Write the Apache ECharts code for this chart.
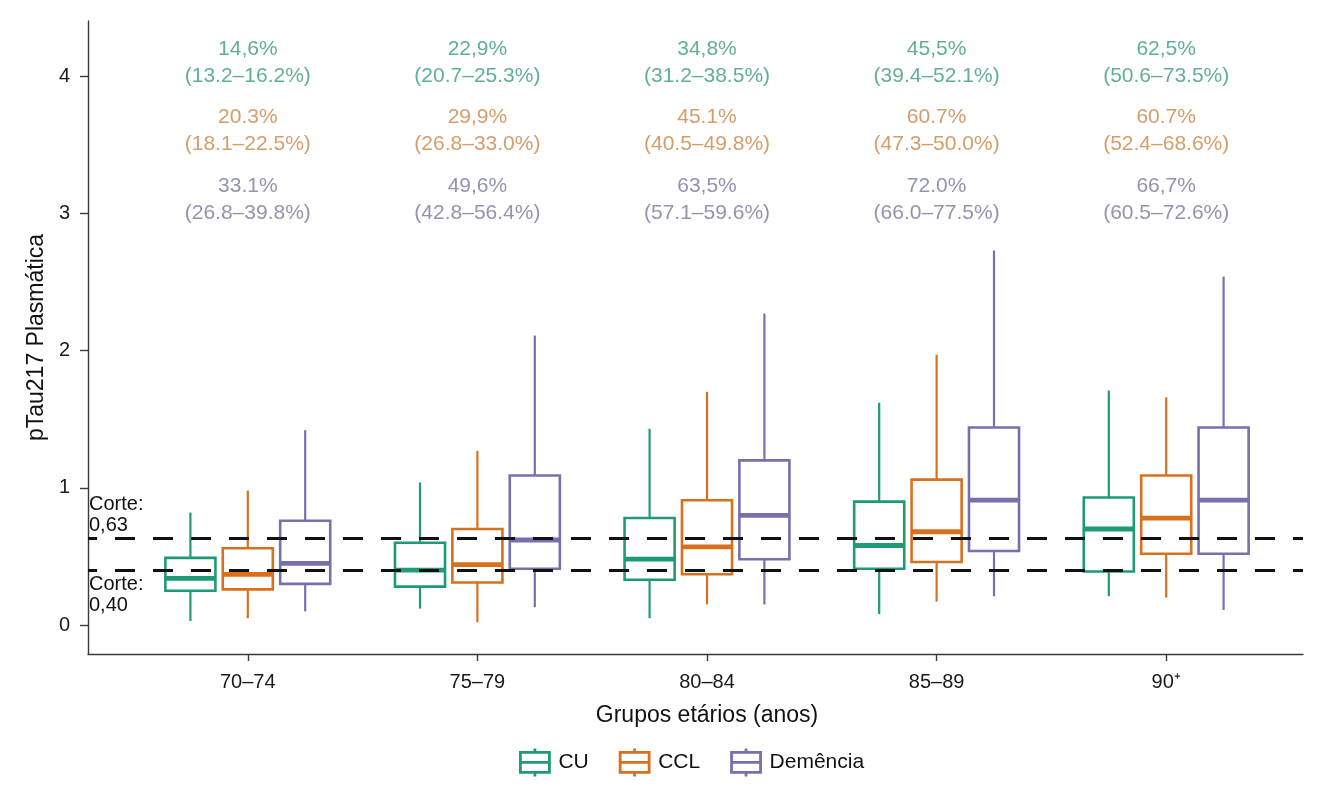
<!DOCTYPE html>
<html lang="pt">
<head>
    <meta charset="UTF-8">
    <title>pTau217 por grupo etário</title>
    <script src="https://cdn.jsdelivr.net/npm/echarts@6/dist/echarts.min.js"></script>
    <style>
        body { margin: 0; background: #fff; }
        #chart { width: 1344px; height: 796px; }
    </style>
</head>
<body>
  <div id="chart"></div>
  <script>
    // categorias do eixo x
    var categories = ['70–74', '75–79', '80–84', '85–89', '90⁺'];
    var yTicks = [0, 1, 2, 3, 4];
    var cutoffs = [0.63, 0.40];
    var cutoffLabels = ['Corte:\n0,63', 'Corte:\n0,40'];

    // caixas: [min, Q1, mediana, Q3, max]
    var cuBoxes = [
        [0.03, 0.25, 0.34, 0.49, 0.82],
        [0.12, 0.28, 0.40, 0.60, 1.04],
        [0.05, 0.33, 0.48, 0.78, 1.43],
        [0.08, 0.41, 0.58, 0.90, 1.62],
        [0.21, 0.39, 0.70, 0.93, 1.71]
    ];
    var cclBoxes = [
        [0.05, 0.26, 0.37, 0.56, 0.98],
        [0.02, 0.31, 0.44, 0.70, 1.27],
        [0.15, 0.37, 0.57, 0.91, 1.70],
        [0.17, 0.46, 0.68, 1.06, 1.97],
        [0.20, 0.52, 0.78, 1.09, 1.66]
    ];
    var demBoxes = [
        [0.10, 0.30, 0.45, 0.76, 1.42],
        [0.13, 0.41, 0.62, 1.09, 2.11],
        [0.15, 0.48, 0.80, 1.20, 2.27],
        [0.21, 0.54, 0.91, 1.44, 2.73],
        [0.11, 0.52, 0.91, 1.44, 2.54]
    ];

    // textos de prevalência no topo
    var cuPct = ['14,6%', '22,9%', '34,8%', '45,5%', '62,5%'];
    var cuCI = ['(13.2–16.2%)', '(20.7–25.3%)', '(31.2–38.5%)', '(39.4–52.1%)', '(50.6–73.5%)'];
    var cclPct = ['20.3%', '29,9%', '45.1%', '60.7%', '60.7%'];
    var cclCI = ['(18.1–22.5%)', '(26.8–33.0%)', '(40.5–49.8%)', '(47.3–50.0%)', '(52.4–68.6%)'];
    var demPct = ['33.1%', '49,6%', '63,5%', '72.0%', '66,7%'];
    var demCI = ['(26.8–39.8%)', '(42.8–56.4%)', '(57.1–59.6%)', '(66.0–77.5%)', '(60.5–72.6%)'];
    var noteY = [4.1, 3.6, 3.1];

    var font = '"Liberation Sans", Arial, Helvetica, sans-serif';
    var yMin = -0.211, yMax = 4.403;
    var axisColor = '#3a3a3a';

    var colors = { cu: '#1f9a77', ccl: '#d8701e', dem: '#7671ad' };
    var textColors = { cu: '#3a9a7e', ccl: '#c98443', dem: '#77789a' };

    function boxSeries(name, color, boxes, shift) {
        return {
            name: name,
            type: 'custom',
            xAxisIndex: 0,
            yAxisIndex: 0,
            z: 3,
            silent: true,
            itemStyle: { color: color },
            encode: { x: 0, y: [1, 2, 3, 4, 5] },
            data: boxes.map(function (b, i) { return [i].concat(b); }),
            renderItem: function (params, api) {
                var i = api.value(0);
                var band = api.size([1, 0])[0];
                var cx = api.coord([i, 0])[0] + shift * band;
                var half = band * 0.109;
                var py = function (k) { return api.coord([i, api.value(k)])[1]; };
                var lo = py(1), q1 = py(2), med = py(3), q3 = py(4), hi = py(5);
                return {
                    type: 'group',
                    children: [
                        { type: 'line', shape: { x1: cx, y1: q3, x2: cx, y2: hi }, style: { stroke: color, lineWidth: 2.2 } },
                        { type: 'line', shape: { x1: cx, y1: q1, x2: cx, y2: lo }, style: { stroke: color, lineWidth: 2.2 } },
                        { type: 'rect', shape: { x: cx - half, y: q3, width: 2 * half, height: q1 - q3 }, style: { fill: '#fff', stroke: color, lineWidth: 2.6 } },
                        { type: 'line', shape: { x1: cx - half, y1: med, x2: cx + half, y2: med }, style: { stroke: color, lineWidth: 4.8 } }
                    ]
                };
            }
        };
    }

    function noteSeries(pcts, cis, yVal, color) {
        return {
            type: 'scatter',
            xAxisIndex: 0,
            yAxisIndex: 0,
            symbolSize: 1,
            silent: true,
            itemStyle: { color: 'rgba(0,0,0,0)' },
            data: pcts.map(function (p, i) { return [i, yVal]; }),
            label: {
                show: true,
                position: 'inside',
                formatter: function (p) { return pcts[p.dataIndex] + '\n' + cis[p.dataIndex]; },
                color: color,
                fontSize: 21,
                lineHeight: 27,
                fontFamily: font
            }
        };
    }

    var legendIcon = 'path://M15.5,0 L15.5,4 M1,4 L30,4 L30,24 L1,24 Z M1,14 L30,14 M15.5,24 L15.5,28';
    function legendItem(name, color) {
        return { name: name, icon: legendIcon, itemStyle: { color: '#fff', borderColor: color, borderWidth: 2.8 } };
    }

    var myChart = echarts.init(document.getElementById('chart'));
    var option = {
        animation: false,
        backgroundColor: '#fff',
        textStyle: { fontFamily: font },
        grid: [
            { left: 133, right: 63, top: 21, bottom: 142 },
            { left: 88, right: 41, top: 21, bottom: 142 }
        ],
        legend: {
            left: 514,
            top: 742,
            itemWidth: 31,
            itemHeight: 28,
            itemGap: 30,
            selectedMode: false,
            textStyle: { fontSize: 21, color: '#111', fontFamily: font, padding: [0, 0, 0, 3] },
            data: [legendItem('CU', colors.cu), legendItem('CCL', colors.ccl), legendItem('Demência', colors.dem)]
        },
        xAxis: [
            {
                type: 'category',
                gridIndex: 0,
                data: categories,
                boundaryGap: true,
                axisLine: { show: false, onZero: false },
                axisTick: { show: true, alignWithLabel: true, length: 7, lineStyle: { color: axisColor, width: 1.4 } },
                axisLabel: { fontSize: 20, color: '#1a1a1a', margin: 18, fontFamily: font },
                splitLine: { show: false },
                name: 'Grupos etários (anos)',
                nameLocation: 'middle',
                nameGap: 50,
                nameTextStyle: { fontSize: 23, color: '#111', fontFamily: font }
            },
            {
                type: 'value',
                gridIndex: 1,
                min: 0,
                max: 1,
                axisLine: { show: true, onZero: false, lineStyle: { color: axisColor, width: 1.4 } },
                axisTick: { show: false },
                axisLabel: { show: false },
                splitLine: { show: false }
            }
        ],
        yAxis: [
            {
                type: 'value',
                gridIndex: 0,
                min: yMin,
                max: yMax,
                show: false,
                splitLine: { show: false }
            },
            {
                type: 'value',
                gridIndex: 1,
                min: yMin,
                max: yMax,
                axisLine: { show: true, onZero: false, lineStyle: { color: axisColor, width: 1.4 } },
                axisTick: { show: true, length: 8, customValues: yTicks, lineStyle: { color: axisColor, width: 1.4 } },
                axisLabel: { fontSize: 20, color: '#1a1a1a', margin: 18, customValues: yTicks, fontFamily: font },
                splitLine: { show: false },
                name: 'pTau217 Plasmática',
                nameLocation: 'middle',
                nameGap: 39,
                nameTextStyle: { fontSize: 23, color: '#111', fontFamily: font }
            }
        ],
        series: [
            boxSeries('CU', colors.cu, cuBoxes, -0.25),
            boxSeries('CCL', colors.ccl, cclBoxes, 0),
            boxSeries('Demência', colors.dem, demBoxes, 0.25),
            noteSeries(cuPct, cuCI, noteY[0], textColors.cu),
            noteSeries(cclPct, cclCI, noteY[1], textColors.ccl),
            noteSeries(demPct, demCI, noteY[2], textColors.dem),
            {
                type: 'line',
                xAxisIndex: 1,
                yAxisIndex: 1,
                data: [],
                z: 10,
                silent: true,
                markLine: {
                    symbol: 'none',
                    silent: true,
                    animation: false,
                    lineStyle: { color: '#111', type: [20, 18], dashOffset: 11, width: 3 },
                    data: [
                        { yAxis: cutoffs[0], label: { show: true, position: 'insideStartTop', formatter: cutoffLabels[0], distance: [1, 3], color: '#111', fontSize: 20, lineHeight: 21, align: 'left', fontFamily: font } },
                        { yAxis: cutoffs[1], label: { show: true, position: 'insideStartBottom', formatter: cutoffLabels[1], distance: [1, 4], color: '#111', fontSize: 20, lineHeight: 21, align: 'left', fontFamily: font } }
                    ]
                }
            }
        ]
    };
    myChart.setOption(option);
  </script>
</body>
</html>
